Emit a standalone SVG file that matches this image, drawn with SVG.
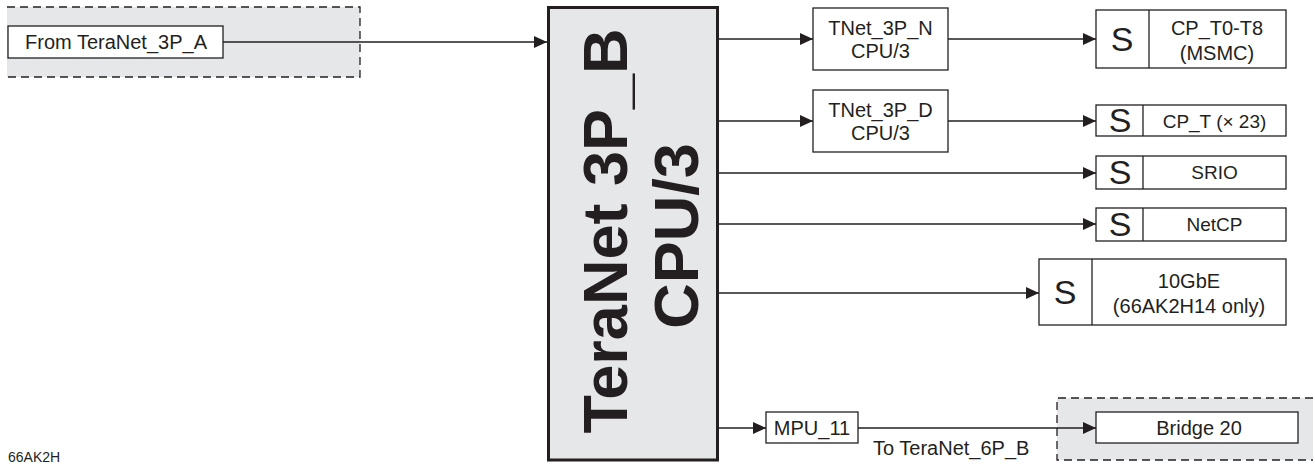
<svg xmlns="http://www.w3.org/2000/svg" width="1315" height="467" viewBox="0 0 1315 467">
<style>
  .box { fill: #ffffff; stroke: #231f20; stroke-width: 1.3; }
  .gray { fill: #e6e7e8; }
  .dash { fill: none; stroke: #231f20; stroke-width: 1.3; stroke-dasharray: 8 5; }
  .main { fill: #e6e7e8; stroke: #231f20; stroke-width: 3; }
  .t { font-family: "Liberation Sans", Arial, sans-serif; font-size: 20px; fill: #231f20; text-anchor: middle; }
  .ts { font-family: "Liberation Sans", Arial, sans-serif; font-size: 19px; fill: #231f20; text-anchor: middle; }
  .s { font-family: "Liberation Sans", Arial, sans-serif; font-size: 34px; fill: #231f20; text-anchor: middle; }
  .big { font-family: "Liberation Sans", Arial, sans-serif; font-size: 63px; font-weight: bold; fill: #231f20; text-anchor: middle; }
  .conn line { stroke: #231f20; stroke-width: 1.3; }
  .div { stroke: #231f20; stroke-width: 1.3; }
</style>
<defs>
  <marker id="arr" markerUnits="userSpaceOnUse" markerWidth="14" markerHeight="13" refX="13" refY="6" orient="auto">
    <path d="M0,0 L13,6 L0,12 z" fill="#231f20"/>
  </marker>
</defs>

<g id="from-region">
  <rect class="gray" x="7" y="7" width="353" height="70"/>
  <path class="dash" d="M7,7 H360 V77 H7"/>
</g>
<g id="from-teranet-3p-a">
  <rect class="box" x="8" y="26" width="215" height="32"/>
  <text class="t" x="116" y="49">From TeraNet_3P_A</text>
</g>

<g id="teranet-3p-b">
  <rect class="main" x="548.5" y="7.5" width="169" height="452.5"/>
  <text class="big" transform="translate(627,231) rotate(-90)">TeraNet 3P_B</text>
  <text class="big" transform="translate(698,236) rotate(-90)">CPU/3</text>
</g>

<g id="tnet-3p-n">
  <rect class="box" x="813" y="8" width="135" height="62"/>
  <text class="t" x="880.5" y="35">TNet_3P_N</text>
  <text class="t" x="880.5" y="58">CPU/3</text>
</g>
<g id="tnet-3p-d">
  <rect class="box" x="813" y="90" width="135" height="62"/>
  <text class="t" x="880.5" y="117">TNet_3P_D</text>
  <text class="t" x="880.5" y="140">CPU/3</text>
</g>

<g id="cp-t0-t8">
  <rect class="box" x="1096" y="10" width="190" height="58"/>
  <line class="div" x1="1149" y1="10" x2="1149" y2="68"/>
  <text class="s" x="1122" y="51">S</text>
  <text class="t" x="1217" y="35">CP_T0-T8</text>
  <text class="t" x="1217" y="60">(MSMC)</text>
</g>
<g id="cp-t">
  <rect class="box" x="1096" y="105" width="190" height="31"/>
  <line class="div" x1="1143" y1="105" x2="1143" y2="136"/>
  <text class="s" x="1120" y="132">S</text>
  <text class="ts" x="1214.5" y="128">CP_T (× 23)</text>
</g>
<g id="srio">
  <rect class="box" x="1096" y="156" width="190" height="33"/>
  <line class="div" x1="1143" y1="156" x2="1143" y2="189"/>
  <text class="s" x="1120" y="184">S</text>
  <text class="ts" x="1214.5" y="179">SRIO</text>
</g>
<g id="netcp">
  <rect class="box" x="1096" y="208" width="190" height="33"/>
  <line class="div" x1="1143" y1="208" x2="1143" y2="241"/>
  <text class="s" x="1120" y="236">S</text>
  <text class="ts" x="1214.5" y="231">NetCP</text>
</g>
<g id="tengbe">
  <rect class="box" x="1039" y="259" width="247" height="66"/>
  <line class="div" x1="1092" y1="259" x2="1092" y2="325"/>
  <text class="s" x="1065" y="304">S</text>
  <text class="t" x="1189" y="288">10GbE</text>
  <text class="t" x="1189" y="313">(66AK2H14 only)</text>
</g>

<g id="mpu-11">
  <rect class="box" x="766" y="412" width="92" height="31"/>
  <text class="t" x="812" y="435">MPU_11</text>
</g>

<g id="bridge-region">
  <rect class="gray" x="1057" y="398" width="256" height="62"/>
  <path class="dash" d="M1313,398 H1057 V460 H1313"/>
</g>
<g id="bridge-20">
  <rect class="box" x="1096" y="412" width="202" height="31"/>
  <text class="t" x="1199" y="435">Bridge 20</text>
</g>

<g id="connectors" class="conn">
  <line x1="223" y1="42" x2="547" y2="42" marker-end="url(#arr)"/>
  <line x1="719" y1="39" x2="813" y2="39" marker-end="url(#arr)"/>
  <line x1="719" y1="121" x2="813" y2="121" marker-end="url(#arr)"/>
  <line x1="948" y1="39" x2="1096" y2="39" marker-end="url(#arr)"/>
  <line x1="948" y1="121" x2="1096" y2="121" marker-end="url(#arr)"/>
  <line x1="719" y1="173" x2="1096" y2="173" marker-end="url(#arr)"/>
  <line x1="719" y1="224" x2="1096" y2="224" marker-end="url(#arr)"/>
  <line x1="719" y1="293" x2="1039" y2="293" marker-end="url(#arr)"/>
  <line x1="719" y1="428" x2="766" y2="428" marker-end="url(#arr)"/>
  <line x1="858" y1="428" x2="1096" y2="428" marker-end="url(#arr)"/>
</g>

<text class="t" x="873" y="455" style="text-anchor:start">To TeraNet_6P_B</text>
<text x="8" y="462" style="font-family:'Liberation Sans', Arial, sans-serif; font-size:14px; fill:#231f20">66AK2H</text>
</svg>
